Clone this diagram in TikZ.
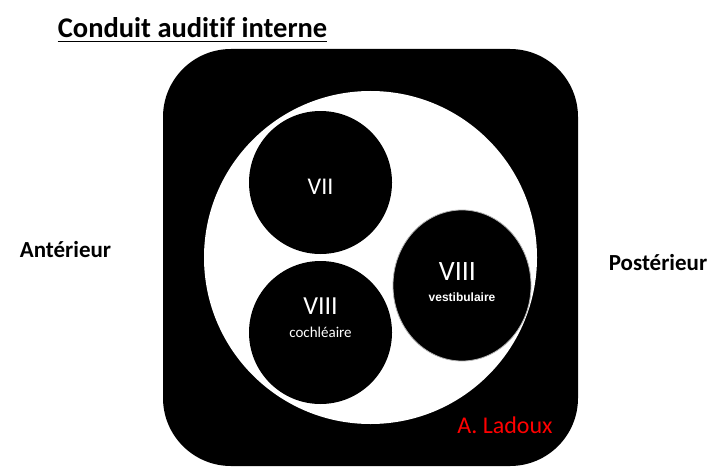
\documentclass[tikz,border=0pt]{standalone}
\usepackage{fontspec}
\setmainfont{Carlito}[Ligatures=NoCommon]
\newfontfamily\arialfont{Liberation Sans}
\usetikzlibrary{shapes.geometric}

\tikzset{
  nerf/.style={ellipse,fill=black,inner sep=0pt},
  lbl/.style={inner sep=0pt,text=white},
  cote/.style={inner sep=0pt,font=\fontsize{23}{25}\selectfont\bfseries}
}

\begin{document}
\begin{tikzpicture}[x=1pt,y=-1pt]
\useasboundingbox (0,0) rectangle (727,468);
% conduit
\fill[rounded corners=68pt] (163,49) rectangle (578,466);
\fill[white] (370.5,257.5) circle (166.5);
% nerfs
\node[nerf,minimum width=143pt,minimum height=143pt] (VII) at (320.5,182.5) {};
\node[nerf,minimum width=143pt,minimum height=143pt] (coch) at (320.5,332.5) {};
\node[nerf,draw=gray!60,line width=0.8pt,minimum width=138pt,minimum height=151pt] (vest) at (462,285.5) {};
\node[lbl,font=\fontsize{24}{26}\selectfont] (tVII) at (320.5,187) {VII};
\node[lbl,font=\fontsize{26}{28}\selectfont] (tcoch) at (320.5,306) {VIII};
\node[lbl,font=\fontsize{15}{17}\selectfont] (scoch) at (320.5,332) {cochléaire};
\node[lbl,font=\fontsize{28}{30}\selectfont] (tvest) at (457.5,272) {VIII};
\node[lbl,font=\arialfont\fontsize{12}{14}\selectfont\bfseries] (svest) at (462,297) {vestibulaire};
% textes
\node[inner sep=0pt,font=\fontsize{28.5}{30}\selectfont\bfseries] (titre) at (192.5,28) {Conduit auditif interne};
\draw[line width=1.4pt] ([yshift=-3.5pt]titre.base west) -- ([yshift=-3.5pt]titre.base east);
\node[cote] (ant) at (65.5,250) {Antérieur};
\node[cote] (post) at (658,263) {Postérieur};
\node[inner sep=0pt,text=red,font=\fontsize{24}{26}\selectfont] (auteur) at (505,425) {A. Ladoux};
\end{tikzpicture}
\end{document}
